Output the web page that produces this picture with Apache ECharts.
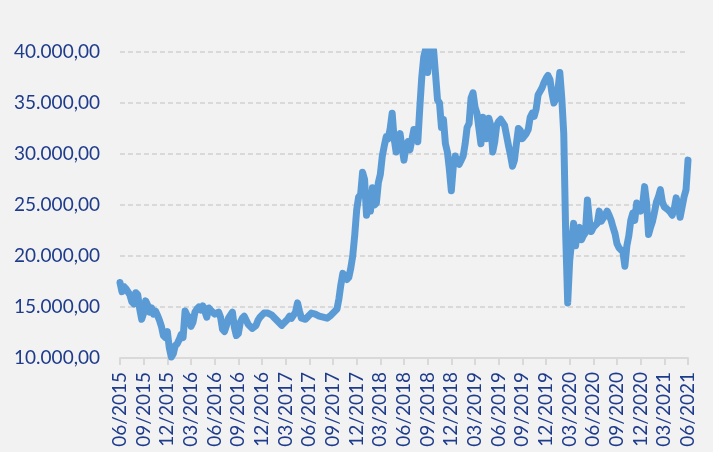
<!DOCTYPE html>
<html>
<head>
<meta charset="utf-8">
<script src="https://cdn.jsdelivr.net/npm/echarts@6/dist/echarts.min.js"></script>
<style>
  html, body { margin: 0; padding: 0; background: #f2f2f2; }
  #chart { width: 713px; height: 452px; }
</style>
</head>
<body>
<div id="chart"></div>
<script>
// x ticks every 3 months, from 06/2015 to 06/2021
const tickLabels = ['06/2015', '09/2015', '12/2015', '03/2016', '06/2016', '09/2016', '12/2016',
  '03/2017', '06/2017', '09/2017', '12/2017', '03/2018', '06/2018', '09/2018', '12/2018',
  '03/2019', '06/2019', '09/2019', '12/2019', '03/2020', '06/2020', '09/2020', '12/2020',
  '03/2021', '06/2021'];

// one value per quarter month, starting 06/2015
const stepMonths = 0.25;
const values = [
  17400, 16500, 17000, 16800, 16900, 16200, 15500, 15300, 16400, 16200,
  14800, 13800, 14400, 15600, 15200, 14500, 14900, 14300, 14600, 14200,
  13700, 13100, 12200, 12000, 12600, 11000, 10100, 10400, 11200, 11400,
  11800, 12300, 12000, 14600, 14200, 14000, 13100, 13500, 14500, 14800,
  15000, 14700, 15100, 14600, 14000, 14900, 14700, 14500, 14300, 14400,
  14500, 14000, 12800, 12600, 13200, 13900, 14200, 14500, 13000, 12200,
  12400, 13500, 13900, 14100, 13700, 13300, 13100, 12900, 12800, 13200,
  13700, 14000, 14200, 14400, 14500, 14400, 14300, 14200, 14000, 13800,
  13600, 13400, 13200, 13300, 13600, 13800, 14100, 13900, 14000, 14500,
  15400, 14600, 13900, 14000, 13800, 14000, 14200, 14400, 14400, 14300,
  14200, 14100, 14000, 14000, 13900, 13900, 14000, 14200, 14400, 14600,
  14800, 15800, 17200, 18300, 18000, 17700, 17900, 18800, 20000, 22000,
  24500, 25800, 26000, 28200, 27500, 24000, 25200, 24400, 26700, 25000,
  25200, 27200, 28000, 29800, 30800, 31700, 31500, 32500, 34000, 31500,
  30200, 31600, 32000, 30600, 29400, 30800, 31200, 30400, 31400, 32400,
  32000, 31200, 34500, 37500, 39500, 40300, 38000, 40300, 40500, 40200,
  37800, 35300, 35000, 32600, 33400, 31000, 30200, 28500, 26400, 28800,
  29800, 29200, 29000, 29400, 29800, 31000, 32600, 33000, 35500, 36000,
  34600, 34000, 32500, 31000, 33600, 32400, 31500, 33500, 32800, 30200,
  31200, 32800, 33200, 33400, 33500, 32800, 31800, 30800, 29900, 28800,
  29400, 31000, 32500, 32300, 31500, 31600, 32000, 32400, 33600, 34000,
  33700, 34400, 35800, 35700, 36500, 37000, 37400, 37700, 37300, 36000,
  35000, 35400, 36200, 38000, 35500, 32000, 22000, 15400, 19500, 21500,
  23200, 21000, 22500, 22800, 21600, 22000, 22300, 25500, 23500, 22400,
  22800, 23000, 23200, 24400, 23400, 23400, 24000, 24400, 24000, 23500,
  22800, 22200, 21200, 20800, 20800, 20400, 19000, 21000, 22000, 23500,
  24200, 23500, 25200, 25300, 24400, 25000, 26800, 25200, 22100, 22800,
  23400, 24300, 25300, 25800, 26500, 25300, 24800, 24700, 24500, 24300,
  24000, 24600, 25700, 25000, 23800, 24800, 25800, 26500, 29400
];

const labelColor = '#1f3c8c';
const font = 'Lato, "Open Sans", sans-serif';

function fmtNumber(v) {
  const s = String(Math.round(v)).replace(/\B(?=(\d{3})+(?!\d))/g, '.');
  return s + ',00';
}

const chart = echarts.init(document.getElementById('chart'));
chart.setOption({
  backgroundColor: '#f2f2f2',
  animation: false,
  grid: { left: 120, right: 25, top: 52, bottom: 94 },
  xAxis: {
    type: 'value',
    min: 0,
    max: (tickLabels.length - 1) * 3,
    interval: 3,
    axisLine: { show: true, onZero: false, lineStyle: { color: '#d9d9d9', width: 2 } },
    axisTick: { show: true, length: 7, lineStyle: { color: '#d9d9d9', width: 2 } },
    splitLine: { show: false },
    axisLabel: {
      rotate: 90,
      margin: 14,
      color: labelColor,
      fontFamily: font,
      fontSize: 19,
      formatter: v => tickLabels[Math.round(v / 3)]
    }
  },
  yAxis: {
    type: 'value',
    min: 10000,
    max: 40000,
    interval: 5000,
    axisLine: { show: false },
    axisTick: { show: false },
    splitLine: { lineStyle: { color: '#d9d9d9', width: 2, type: [5, 3] } },
    axisLabel: {
      margin: 20,
      color: labelColor,
      fontFamily: font,
      fontSize: 19,
      formatter: fmtNumber
    }
  },
  series: [{
    type: 'line',
    data: values.map((v, i) => [i * stepMonths, v]),
    showSymbol: false,
    clip: true,
    lineStyle: { color: '#5b9bd5', width: 7, join: 'round', cap: 'round' }
  }]
});
</script>
</body>
</html>
